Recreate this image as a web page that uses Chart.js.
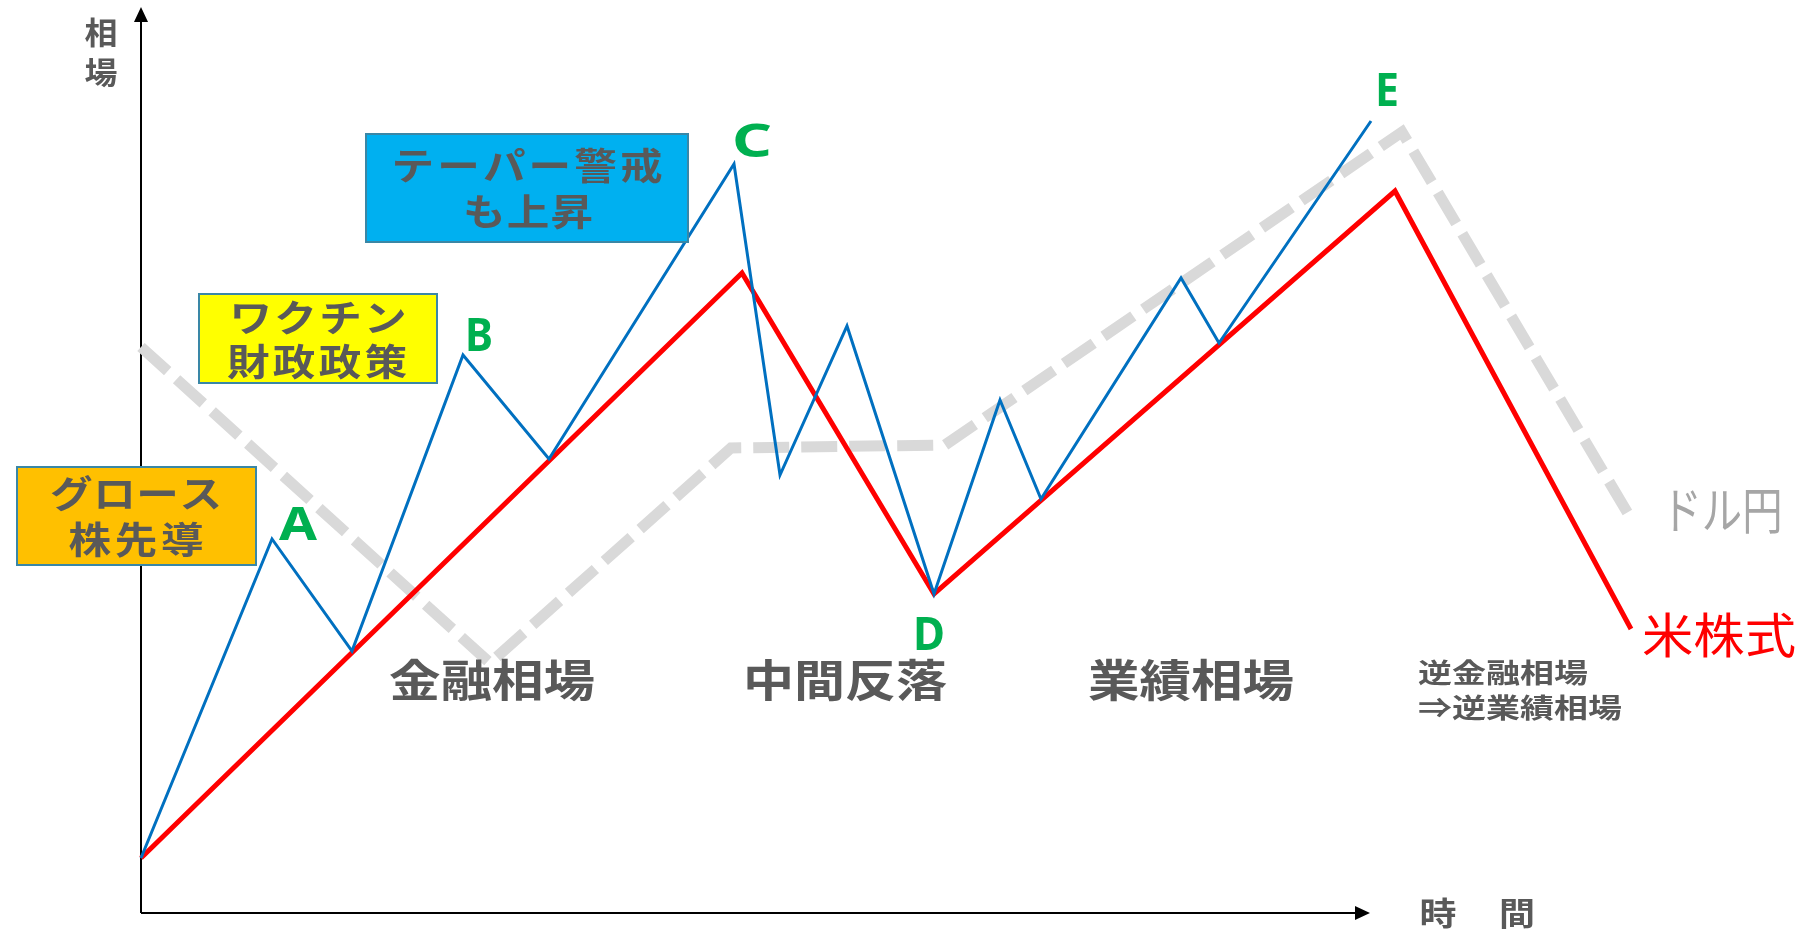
<!DOCTYPE html>
<html lang="ja">
<head>
<meta charset="utf-8">
<title>相場サイクル</title>
<script src="https://cdn.jsdelivr.net/npm/chart.js@4.4.1/dist/chart.umd.min.js"></script>
<style>
  html, body { margin: 0; padding: 0; background: #fff; }
  #wrap { width: 1805px; height: 929px; position: relative; }
</style>
</head>
<body>
<div id="wrap"><canvas id="myChart"></canvas></div>
<script>
// 時間（原点からの距離）と相場の水準
const waveX = [0, 131, 211, 322, 408, 593, 639, 706, 793, 859, 900, 1040, 1078, 1230];
const waveY = [55, 374, 262, 558, 454, 749, 438, 587, 319, 513, 414, 635, 570, 792];

const stockX = [0, 601, 793, 1254, 1490];
const stockY = [55, 640, 319, 722, 284];

const fxX = [0, 349, 590, 804, 1261, 1489];
const fxY = [566, 250, 465, 468, 781, 396];

const pointLabels = ["A", "B", "C", "D", "E"];
const phaseLabels = ["金融相場", "中間反落", "業績相場"];
const lastPhase = ["逆金融相場", "⇒逆業績相場"];
const boxTexts = [["グロース", "株先導"], ["ワクチン", "財政政策"], ["テーパー警戒", "も上昇"]];
const seriesNames = ["米株式", "ドル円"];

const GRAY = "#595959";
const FONT_JP = '"Noto Sans CJK JP", "Noto Sans", sans-serif';
const FONT_LATIN = '"Noto Sans", "DejaVu Sans", sans-serif';

function toXY(xs, ys) {
  return xs.map((x, i) => ({ x: x, y: ys[i] }));
}

// 文字を横幅に合わせて描く
function drawText(ctx, text, px, py, o) {
  ctx.save();
  ctx.font = (o.bold ? "bold " : "") + o.size + "px " + (o.family || FONT_JP);
  ctx.fillStyle = o.color || GRAY;
  ctx.textBaseline = o.baseline || "middle";
  ctx.textAlign = "left";
  const left = o.align === "left" ? px : px - o.width / 2;
  if (o.spaced) {
    const chars = Array.from(text);
    const st = o.stretch || 1.15;
    const ws = chars.map(c => ctx.measureText(c).width * st);
    const sum = ws.reduce((a, b) => a + b, 0);
    const gap = chars.length > 1 ? (o.width - sum) / (chars.length - 1) : 0;
    let x = left;
    chars.forEach((c, i) => {
      ctx.save();
      ctx.translate(x, py);
      ctx.scale(st, 1);
      ctx.fillText(c, 0, 0);
      ctx.restore();
      x += ws[i] + gap;
    });
  } else {
    const sx = o.width / ctx.measureText(text).width;
    ctx.translate(left, py);
    ctx.scale(sx, 1);
    ctx.fillText(text, 0, 0);
  }
  ctx.restore();
}

const axesPlugin = {
  id: "axes",
  beforeDatasetsDraw(chart) {
    const ctx = chart.ctx;
    const xs = chart.scales.x, ys = chart.scales.y;
    const ox = xs.getPixelForValue(0), oy = ys.getPixelForValue(0);
    const tipY = ys.getPixelForValue(906);
    const tipX = xs.getPixelForValue(1229);
    ctx.save();
    ctx.strokeStyle = "#000";
    ctx.fillStyle = "#000";
    ctx.lineWidth = 2;
    ctx.beginPath();
    ctx.moveTo(ox, oy);
    ctx.lineTo(ox, tipY + 12);
    ctx.moveTo(ox, oy);
    ctx.lineTo(tipX - 12, oy);
    ctx.stroke();
    ctx.beginPath();
    ctx.moveTo(ox, tipY);
    ctx.lineTo(ox - 7, tipY + 15);
    ctx.lineTo(ox + 7, tipY + 15);
    ctx.closePath();
    ctx.fill();
    ctx.beginPath();
    ctx.moveTo(tipX, oy);
    ctx.lineTo(tipX - 15, oy - 7);
    ctx.lineTo(tipX - 15, oy + 7);
    ctx.closePath();
    ctx.fill();
    ctx.restore();
  }
};

const notesPlugin = {
  id: "notes",
  afterDatasetsDraw(chart) {
    const ctx = chart.ctx;
    const xs = chart.scales.x, ys = chart.scales.y;
    const X = v => xs.getPixelForValue(v);
    const Y = v => ys.getPixelForValue(v);

    // 軸ラベル
    drawText(ctx, "相", X(-40), Y(881), { size: 31, bold: true, width: 33 });
    drawText(ctx, "場", X(-40), Y(841), { size: 31, bold: true, width: 33 });
    drawText(ctx, "時", X(1297), Y(0), { size: 32, bold: true, width: 37 });
    drawText(ctx, "間", X(1376), Y(0), { size: 32, bold: true, width: 36 });

    // 吹き出しボックス
    const boxes = [
      { x0: -124, x1: 115, y0: 446, y1: 348, fill: "#FFC000",
        lines: [[-5, 419, 172], [-5, 373, 135]] },
      { x0: 58, x1: 296, y0: 619, y1: 530, fill: "#FFFF00",
        lines: [[177, 595, 177], [176, 551, 180]] },
      { x0: 225, x1: 547, y0: 779, y1: 671, fill: "#00B0F0",
        lines: [[386, 747, 271], [387, 701, 130]] }
    ];
    boxes.forEach((b, i) => {
      const l = X(b.x0), t = Y(b.y0), w = X(b.x1) - l, h = Y(b.y1) - t;
      ctx.save();
      ctx.fillStyle = b.fill;
      ctx.fillRect(l, t, w, h);
      ctx.strokeStyle = "#3A87A6";
      ctx.lineWidth = 2;
      ctx.strokeRect(l, t, w, h);
      ctx.restore();
      b.lines.forEach((ln, j) => {
        drawText(ctx, boxTexts[i][j], X(ln[0]), Y(ln[1]),
          { size: 37, bold: true, width: ln[2], spaced: true, stretch: 1.15 });
      });
    });

    // 局面
    const phasePos = [351, 704, 1050];
    const phaseW = [206, 204, 206];
    phaseLabels.forEach((t, i) => {
      drawText(ctx, t, X(phasePos[i]), Y(233), { size: 44, bold: true, width: phaseW[i] });
    });
    drawText(ctx, lastPhase[0], X(1277), Y(240), { size: 27, bold: true, width: 170, align: "left" });
    drawText(ctx, lastPhase[1], X(1277), Y(205), { size: 27, bold: true, width: 204, align: "left" });

    // A〜E
    const lx = [157, 338, 611, 788, 1246];
    const ly = [373, 562, 756, 263, 807];
    const lw = [38, 28, 40, 32, 24];
    pointLabels.forEach((t, i) => {
      drawText(ctx, t, X(lx[i]), Y(ly[i]),
        { size: 47, bold: true, width: lw[i], family: FONT_LATIN, color: "#00B050", baseline: "alphabetic" });
    });

    // 系列名
    drawText(ctx, seriesNames[1], X(1581), Y(403), { size: 50, width: 121, color: "#A6A6A6" });
    drawText(ctx, seriesNames[0], X(1578), Y(278), { size: 48, width: 154, color: "#FF0000" });
  }
};

new Chart(document.getElementById("myChart"), {
  type: "line",
  data: {
    datasets: [
      {
        label: "相場",
        data: toXY(waveX, waveY),
        borderColor: "#0070C0",
        borderWidth: 3,
        order: 1
      },
      {
        label: seriesNames[0],
        data: toXY(stockX, stockY),
        borderColor: "#FF0000",
        borderWidth: 5,
        order: 2
      },
      {
        label: seriesNames[1],
        data: toXY(fxX, fxY),
        borderColor: "#D9D9D9",
        borderWidth: 11,
        borderDash: [36, 12],
        borderCapStyle: "butt",
        order: 3
      }
    ]
  },
  options: {
    responsive: true,
    maintainAspectRatio: false,
    animation: false,
    layout: { padding: 0 },
    elements: {
      point: { radius: 0, hoverRadius: 0 },
      line: { tension: 0, fill: false, borderJoinStyle: "miter" }
    },
    scales: {
      x: { type: "linear", min: -141, max: 1664, display: false },
      y: { type: "linear", min: -16, max: 913, display: false }
    },
    plugins: {
      legend: { display: false },
      tooltip: { enabled: false }
    }
  },
  plugins: [axesPlugin, notesPlugin]
});
</script>
</body>
</html>
